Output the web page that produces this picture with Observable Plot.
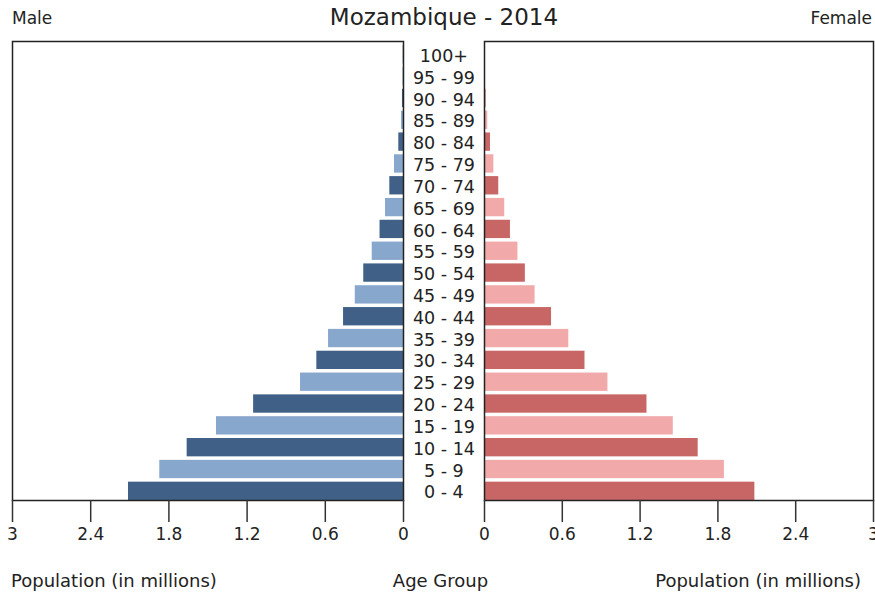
<!DOCTYPE html>
<html>
<head>
<meta charset="utf-8">
<script src="https://cdn.jsdelivr.net/npm/d3@7"></script>
<script src="https://cdn.jsdelivr.net/npm/@observablehq/plot@0.6"></script>
<style>
  html, body { margin: 0; padding: 0; background: #fff; }
  #wrap { position: relative; width: 875px; height: 594px; overflow: hidden; font-family: "DejaVu Sans", sans-serif; color: #222; }
  #wrap svg { position: absolute; left: 0; top: 0; }
  .t { position: absolute; line-height: 1; white-space: nowrap; }
</style>
</head>
<body>
<div id="wrap"></div>
<script>
// Age groups, bottom (youngest) to top (oldest)
const ageGroups = ["0 - 4","5 - 9","10 - 14","15 - 19","20 - 24","25 - 29","30 - 34","35 - 39","40 - 44","45 - 49","50 - 54","55 - 59","60 - 64","65 - 69","70 - 74","75 - 79","80 - 84","85 - 89","90 - 94","95 - 99","100+"];
// Population in millions
const maleValues   = [2.11, 1.87, 1.66, 1.435, 1.15, 0.79, 0.665, 0.575, 0.46, 0.37, 0.305, 0.24, 0.18, 0.138, 0.105, 0.069, 0.036, 0.015, 0.008, 0.004, 0.002];
const femaleValues = [2.085, 1.85, 1.648, 1.456, 1.253, 0.952, 0.775, 0.65, 0.517, 0.39, 0.315, 0.258, 0.2, 0.156, 0.11, 0.072, 0.046, 0.025, 0.012, 0.006, 0.003];
const xTicks = [0, 0.6, 1.2, 1.8, 2.4, 3];
const maleColors = ["#416087", "#88a7cd"];
const femaleColors = ["#c86565", "#f1a9a9"];

const rows = ageGroups.map((age, i) => ({
  age, male: maleValues[i], female: femaleValues[i], shade: i % 2 === 0 ? "dark" : "light"
}));
const yDomain = ageGroups.slice().reverse();

const W = 875, H = 594, TOP = 41, BOTTOM = 94;
const yScale = {domain: yDomain, paddingInner: 0.16, paddingOuter: 0.095, align: 1, round: false, axis: null};
const axisOpts = {ticks: xTicks, tickSize: 22, tickPadding: 5, fontSize: 17, strokeWidth: 1.5, stroke: "#333", fill: "#222", tickFormat: d => String(d), label: null};

const left = Plot.plot({
  width: W, height: H,
  marginLeft: 12, marginRight: W - 403, marginTop: TOP, marginBottom: BOTTOM,
  style: {fontFamily: "DejaVu Sans, sans-serif", background: "transparent", overflow: "visible"},
  x: {domain: [0, 3], reverse: true},
  y: yScale,
  color: {domain: ["dark", "light"], range: maleColors},
  marks: [
    Plot.barX(rows, {x: "male", y: "age", fill: "shade"}),
    Plot.frame({stroke: "#222", strokeWidth: 1.5}),
    Plot.axisX(axisOpts),
    Plot.text(rows, {x: () => -0.31, y: "age", text: "age", fontSize: 17.5, fill: "#222", textAnchor: "middle", dy: 1.5})
  ]
});

const right = Plot.plot({
  width: W, height: H,
  marginLeft: 484, marginRight: 2, marginTop: TOP, marginBottom: BOTTOM,
  style: {fontFamily: "DejaVu Sans, sans-serif", background: "transparent", overflow: "visible"},
  x: {domain: [0, 3]},
  y: yScale,
  color: {domain: ["dark", "light"], range: femaleColors},
  marks: [
    Plot.barX(rows, {x: "female", y: "age", fill: "shade"}),
    Plot.frame({stroke: "#222", strokeWidth: 1.5}),
    Plot.axisX(axisOpts)
  ]
});

const wrap = document.getElementById("wrap");
wrap.appendChild(left);
wrap.appendChild(right);

function addText(txt, size, css) {
  const d = document.createElement("div");
  d.className = "t";
  d.textContent = txt;
  d.style.fontSize = size + "px";
  Object.assign(d.style, css);
  wrap.appendChild(d);
}
addText("Mozambique - 2014", 23, {left: "0px", width: "888px", textAlign: "center", top: "6px"});
addText("Male", 17, {left: "12px", top: "10px"});
addText("Female", 17, {right: "3px", top: "10px"});
addText("Population (in millions)", 18, {left: "11px", top: "572px"});
addText("Age Group", 18, {left: "0px", width: "881px", textAlign: "center", top: "572px"});
addText("Population (in millions)", 18, {right: "14px", top: "572px"});
</script>
</body>
</html>
